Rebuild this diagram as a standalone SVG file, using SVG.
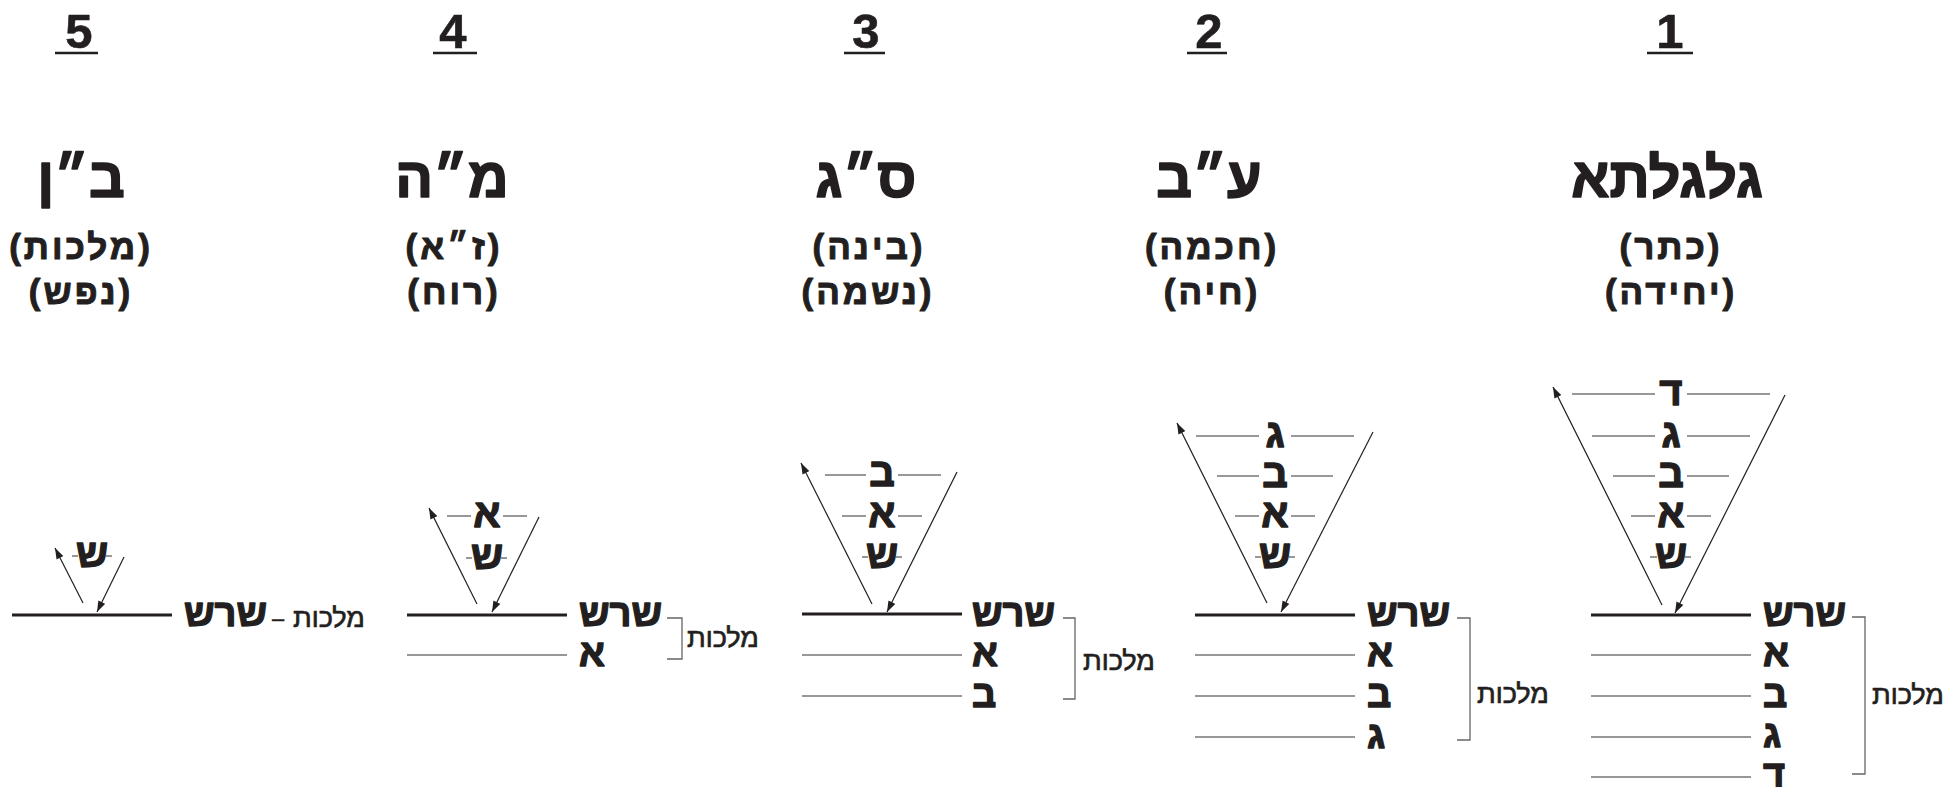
<svg xmlns="http://www.w3.org/2000/svg" width="1943" height="787" viewBox="0 0 1943 787">
<style>
text{font-family:"Liberation Sans","DejaVu Sans",sans-serif;fill:#231f20;font-weight:bold;stroke:#231f20;stroke-linejoin:round}
.num{font-size:49px;text-anchor:middle;stroke-width:0.6}
.title{font-size:56px;text-anchor:middle;stroke-width:1.6}
.sub{font-size:35px;text-anchor:middle;letter-spacing:3px;stroke-width:1}
.let{font-size:40px;text-anchor:middle;stroke-width:1.3}
.lab{font-size:38px;stroke-width:1.3}
.mal{font-size:27px;font-weight:normal;stroke-width:0.7}
.dash{font-size:22px;font-weight:normal;stroke-width:0.3}
.ul{stroke:#231f20;stroke-width:2.5}
.thin{stroke:#333;stroke-width:1.2;fill:none}
.thick{stroke:#231f20;stroke-width:3}
.br{stroke:#666;stroke-width:1.3;fill:none}
.arr{stroke:#231f20;stroke-width:1.2;fill:none;marker-end:url(#ah)}
</style>
<defs>
<marker id="ah" viewBox="0 0 10 7" refX="10" refY="3.5" markerWidth="11" markerHeight="8" markerUnits="userSpaceOnUse" orient="auto">
<path d="M0,0 L10,3.5 L0,7 z" fill="#231f20"/>
</marker>
</defs>
<rect width="1943" height="787" fill="#fff"/>

<g id="headers">
<text class="num" x="79" y="48">5</text><line class="ul" x1="55" y1="53" x2="98" y2="53"/>
<text class="num" x="453" y="48">4</text><line class="ul" x1="433" y1="53" x2="477" y2="53"/>
<text class="num" x="866" y="48">3</text><line class="ul" x1="844" y1="53" x2="885" y2="53"/>
<text class="num" x="1209" y="48">2</text><line class="ul" x1="1187" y1="53" x2="1227" y2="53"/>
<text class="num" x="1670" y="48">1</text><line class="ul" x1="1647" y1="53" x2="1693" y2="53"/>

<text class="title" x="81" y="197">ב״ן</text>
<text class="title" x="452" y="197">מ״ה</text>
<text class="title" x="866" y="197">ס״ג</text>
<text class="title" x="1209" y="197">ע״ב</text>
<text class="title" x="1667" y="197">גלגלתא</text>

<text class="sub" x="81" y="259">(מלכות)</text>
<text class="sub" x="81" y="304">(נפש)</text>
<text class="sub" x="454" y="259">(ז״א)</text>
<text class="sub" x="454" y="304">(רוח)</text>
<text class="sub" x="869" y="259">(בינה)</text>
<text class="sub" x="868" y="304">(נשמה)</text>
<text class="sub" x="1212" y="259">(חכמה)</text>
<text class="sub" x="1212" y="304">(חיה)</text>
<text class="sub" x="1671" y="259">(כתר)</text>
<text class="sub" x="1671" y="304">(יחידה)</text>
</g>

<g id="connectors">
<line class="arr" x1="1662" y1="605" x2="1553" y2="387"/>
<line class="arr" x1="1785" y1="395" x2="1675" y2="613"/>
<line class="arr" x1="1267" y1="603" x2="1177" y2="423"/>
<line class="arr" x1="1373" y1="432" x2="1281" y2="612"/>
<line class="arr" x1="872" y1="604" x2="801" y2="463"/>
<line class="arr" x1="957" y1="472" x2="887" y2="612"/>
<line class="arr" x1="477" y1="604" x2="429" y2="508"/>
<line class="arr" x1="539" y1="517" x2="492" y2="612"/>
<line class="arr" x1="83" y1="603" x2="55" y2="548"/>
<line class="arr" x1="124" y1="557" x2="97" y2="612"/>
</g>

<g id="s1">
<path class="thin" d="M1650,557H1657M1685,557H1691M1631,516H1655M1687,516H1711M1613,476H1655M1687,476H1729M1592,436H1655M1687,436H1750M1572,394H1655M1687,394H1770"/>
<text class="let" x="1671" y="568">ש</text>
<text class="let" x="1671" y="527">א</text>
<text class="let" x="1671" y="487">ב</text>
<text class="let" x="1671" y="447">ג</text>
<text class="let" x="1671" y="405">ד</text>
<line class="thick" x1="1591" y1="615" x2="1751" y2="615"/>
<path class="thin" d="M1591,655H1751M1591,696H1751M1591,737H1751M1591,777H1751"/>
<text class="lab" x="1763" y="626">שרש</text>
<text class="lab" x="1763" y="666">א</text>
<text class="lab" x="1763" y="707">ב</text>
<text class="lab" x="1763" y="747">ג</text>
<text class="lab" x="1763" y="787">ד</text>
<path class="br" d="M1852,617H1865V774H1852"/>
<text class="mal" x="1872" y="704">מלכות</text>
</g>

<g id="s2">
<path class="thin" d="M1255,557H1261M1289,557H1295M1235,516H1259M1291,516H1315M1217,476H1259M1291,476H1333M1196,436H1259M1291,436H1354"/>
<text class="let" x="1275" y="568">ש</text>
<text class="let" x="1275" y="527">א</text>
<text class="let" x="1275" y="487">ב</text>
<text class="let" x="1275" y="447">ג</text>
<line class="thick" x1="1195" y1="615" x2="1355" y2="615"/>
<path class="thin" d="M1195,655H1355M1195,696H1355M1195,737H1355"/>
<text class="lab" x="1367" y="626">שרש</text>
<text class="lab" x="1367" y="666">א</text>
<text class="lab" x="1367" y="707">ב</text>
<text class="lab" x="1367" y="748">ג</text>
<path class="br" d="M1457,618H1470V740H1457"/>
<text class="mal" x="1477" y="703">מלכות</text>
</g>

<g id="s3">
<path class="thin" d="M862,557H868M896,557H902M842,516H866M898,516H922M825,475H866M898,475H941"/>
<text class="let" x="882" y="568">ש</text>
<text class="let" x="882" y="527">א</text>
<text class="let" x="882" y="486">ב</text>
<line class="thick" x1="802" y1="614" x2="962" y2="614"/>
<path class="thin" d="M802,655H962M802,696H962"/>
<text class="lab" x="972" y="626">שרש</text>
<text class="lab" x="972" y="666">א</text>
<text class="lab" x="972" y="707">ב</text>
<path class="br" d="M1063,618H1075V699H1063"/>
<text class="mal" x="1083" y="670">מלכות</text>
</g>

<g id="s4">
<path class="thin" d="M466,558H472M501,558H507M447,516H471M503,516H527"/>
<text class="let" x="487" y="569">ש</text>
<text class="let" x="487" y="527">א</text>
<line class="thick" x1="407" y1="615" x2="567" y2="615"/>
<path class="thin" d="M407,655H567"/>
<text class="lab" x="579" y="626">שרש</text>
<text class="lab" x="579" y="666">א</text>
<path class="br" d="M667,618H682V659H667"/>
<text class="mal" x="687" y="647">מלכות</text>
</g>

<g id="s5">
<path class="thin" d="M72,556H78M106,556H112"/>
<text class="let" x="92" y="567">ש</text>
<line class="thick" x1="12" y1="615" x2="172" y2="615"/>
<text class="lab" x="184" y="626">שרש</text>
<text class="dash" x="272" y="626">–</text>
<text class="mal" x="293" y="627">מלכות</text>
</g>
</svg>
